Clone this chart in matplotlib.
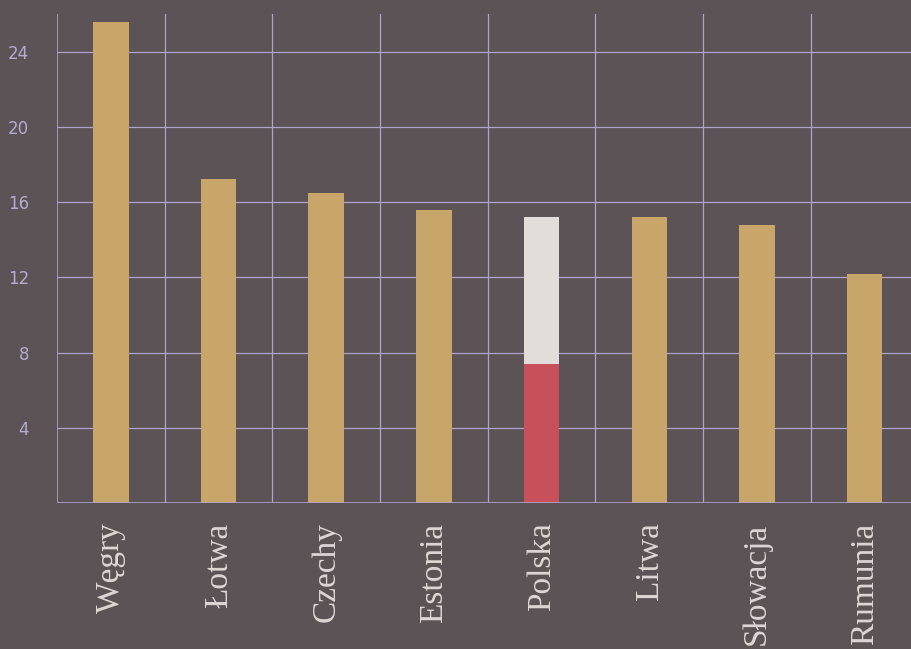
import matplotlib.pyplot as plt
import numpy as np

countries = ["Węgry", "Łotwa", "Czechy", "Estonia", "Polska", "Litwa", "Słowacja", "Rumunia"]
values = [25.6, 17.25, 16.5, 15.6, 15.2, 15.2, 14.8, 12.2]
poland_red = 7.4  # lower (red) part of the Polish bar
y_ticks = [4, 8, 12, 16, 20, 24]

BG = "#5b5355"
GOLD = "#c8a66a"
RED = "#c8505b"
WHITE = "#e2ddd9"
GRID = "#ada4cc"
TICK = "#b4abcf"
LABEL = "#ddd6d4"

fig = plt.figure(figsize=(9.11, 6.49), dpi=100, facecolor=BG)
ax = fig.add_axes([57 / 911, 146 / 649, 854 / 911, 489 / 649])
ax.set_facecolor(BG)

x = np.arange(len(countries))
pl = countries.index("Polska")
width = 0.33

gold_x = [i for i in x if i != pl]
ax.bar(gold_x, [values[i] for i in gold_x], width=width, color=GOLD, zorder=3)
ax.bar(pl, poland_red, width=width, color=RED, zorder=3)
ax.bar(pl, values[pl] - poland_red, bottom=poland_red, width=width, color=WHITE, zorder=3)

ax.set_xlim(-0.5, 7.43)
ax.set_ylim(0, 26)

ax.set_yticks(y_ticks)
ax.set_yticklabels([str(v) for v in y_ticks], color=TICK, fontsize=12, family="DejaVu Sans")
ax.set_xticks(x)
ax.set_xticklabels(countries, rotation=90, color=LABEL, fontsize=24, family="Liberation Serif")
ax.set_xticks(x[:-1] + 0.5, minor=True)
ax.tick_params(axis="y", length=0, pad=20)
ax.tick_params(axis="x", which="both", length=0, pad=14)

ax.grid(axis="y", color=GRID, linewidth=0.9, zorder=1)
ax.grid(axis="x", which="minor", color=GRID, linewidth=0.9, zorder=1)
ax.axvline(-0.5, color=GRID, linewidth=1.2, zorder=1)
ax.axhline(0, color=GRID, linewidth=1.2, zorder=4)

for s in ax.spines.values():
    s.set_visible(False)

fig.savefig("out.png", dpi=100, facecolor=BG)
